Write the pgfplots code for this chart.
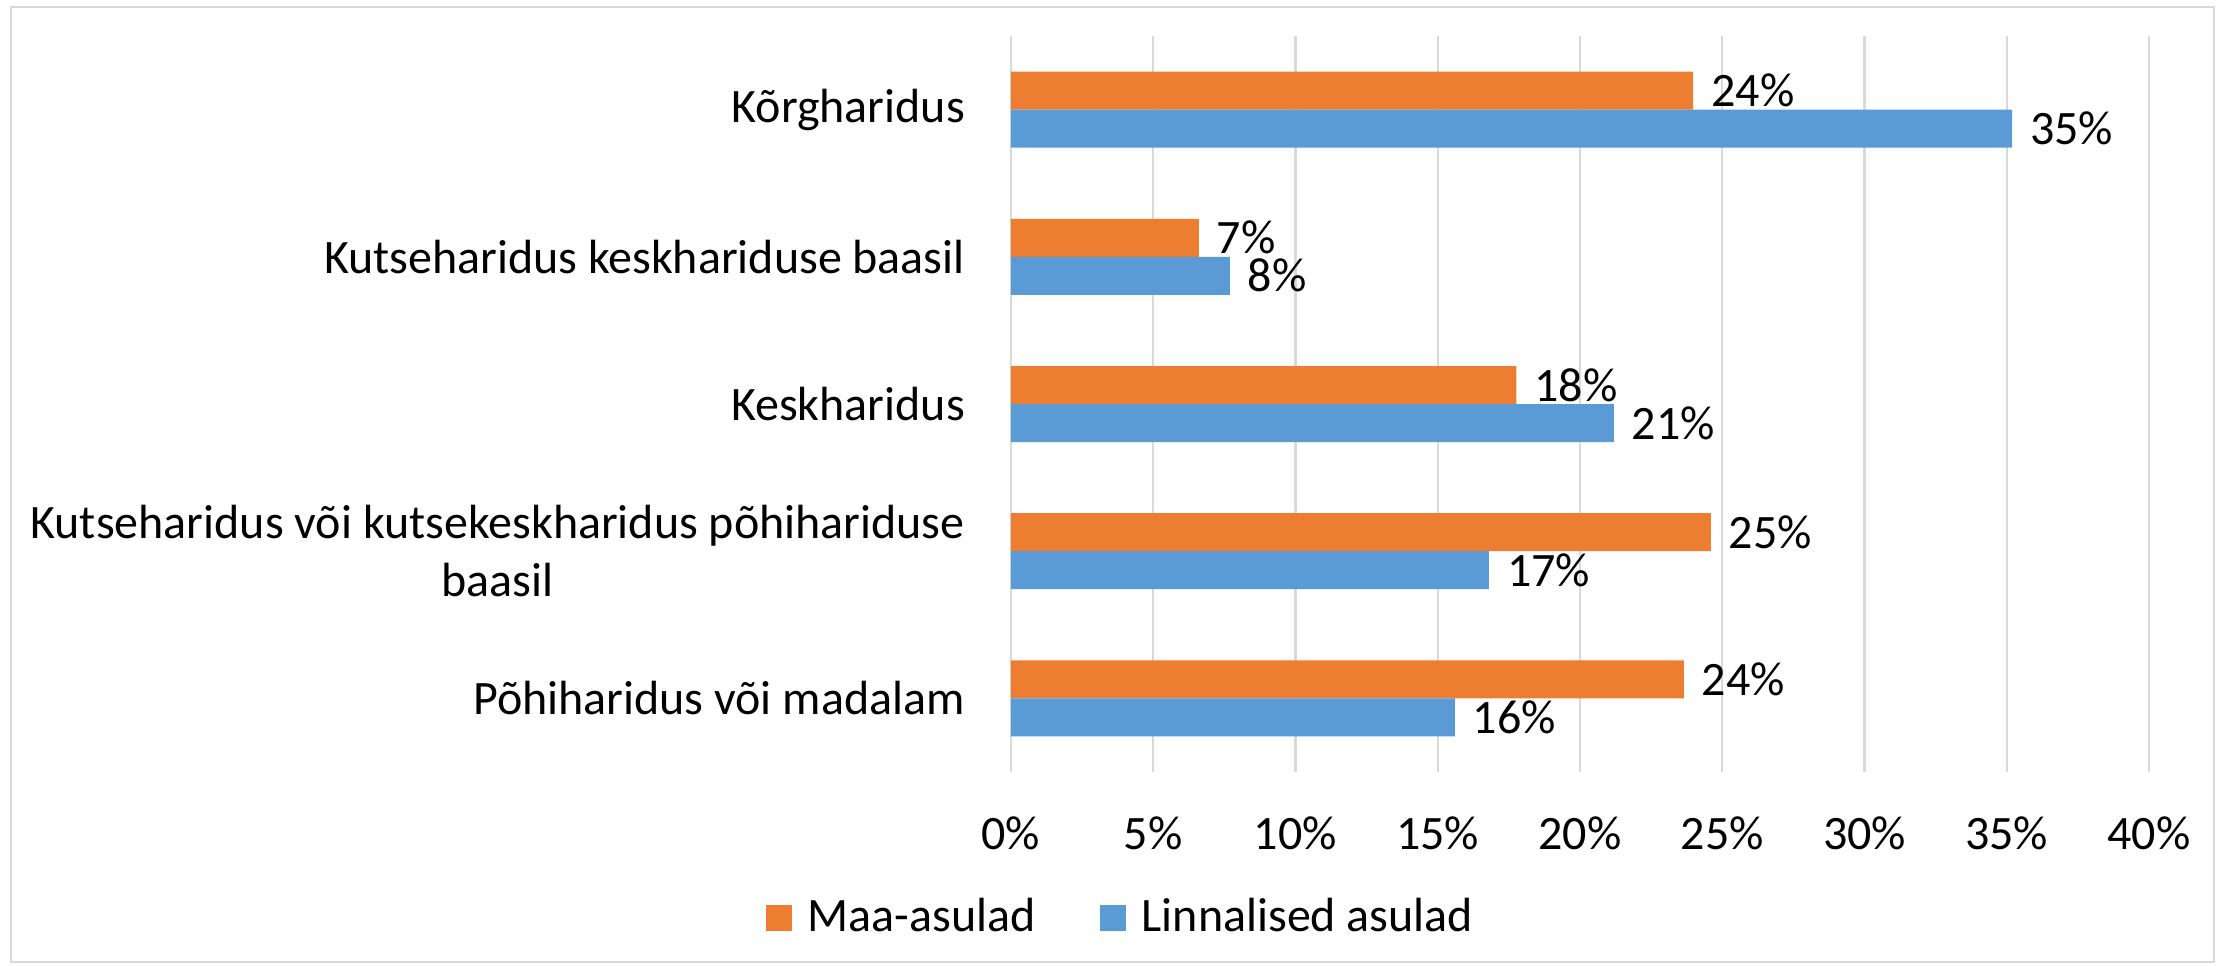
\documentclass[border=0pt]{standalone}
\usepackage{pgfplots}
\pgfplotsset{compat=1.18}
\usepackage{fontspec}
\setmainfont{Carlito}
\definecolor{cOrange}{HTML}{ED7D31}
\definecolor{cBlue}{HTML}{5B9BD5}
\definecolor{cGrid}{HTML}{D9D9D9}
\begin{document}
\begin{tikzpicture}
\path (-252.75pt,-48.25pt) rectangle (301.5pt,193pt);
\draw[cGrid, line width=0.6pt] (-250pt,-47.5pt) rectangle (300.75pt,191.25pt);
\begin{axis}[
  at={(0,0)}, anchor=south west,
  scale only axis,
  width=284.5pt, height=184pt,
  xbar,
  xmin=0, xmax=40,
  ymin=-0.5, ymax=4.5,
  /pgf/number format/assume math mode=true,
  xtick={0,5,...,40},
  xticklabels={0\%,5\%,10\%,15\%,20\%,25\%,30\%,35\%,40\%},
  ytick={0,1,2,3,4},
  yticklabels={Põhiharidus või madalam,
    {Kutseharidus või kutsekeskharidus põhihariduse\\baasil},
    Keskharidus,
    Kutseharidus keskhariduse baasil,
    Kõrgharidus},
  xmajorgrids,
  grid style={cGrid, line width=0.6pt},
  axis line style={draw=none},
  major tick length=0pt,
  tick style={draw=none},
  font=\fontsize{12}{14.5}\selectfont,
  xticklabel style={anchor=base, yshift=-19.25pt, font=\fontsize{12}{14.5}\selectfont},
  yticklabel style={anchor=east, align=center, xshift=-8pt, font=\fontsize{12}{14.5}\selectfont},
  nodes near coords={\pgfmathprintnumber[fixed,precision=0]{\pgfplotspointmeta}\%},
  every node near coord/.append style={anchor=west, xshift=1pt, font=\fontsize{12}{14.5}\selectfont, black},
  legend style={at={(0.0989,-0.198)}, anchor=center, draw=none, fill=none,
    legend columns=2, font=\fontsize{12}{14.5}\selectfont,
    /tikz/every odd column/.append style={column sep=2pt},
    /tikz/every even column/.append style={column sep=14pt}},
  legend cell align=left,
  legend image code/.code={\fill[#1] (0pt,-3.25pt) rectangle (6.5pt,3.25pt);},
]
\addplot[fill=cOrange, draw=none, bar width=9.5pt, bar shift=4.75pt] coordinates {
  (23.65,0) (24.60,1) (17.76,2) (6.60,3) (23.98,4)};
\addlegendentry{Maa-asulad}
\addplot[fill=cBlue, draw=none, bar width=9.5pt, bar shift=-4.75pt] coordinates {
  (15.60,0) (16.80,1) (21.19,2) (7.69,3) (35.19,4)};
\addlegendentry{Linnalised asulad}
\end{axis}
\end{tikzpicture}
\end{document}
